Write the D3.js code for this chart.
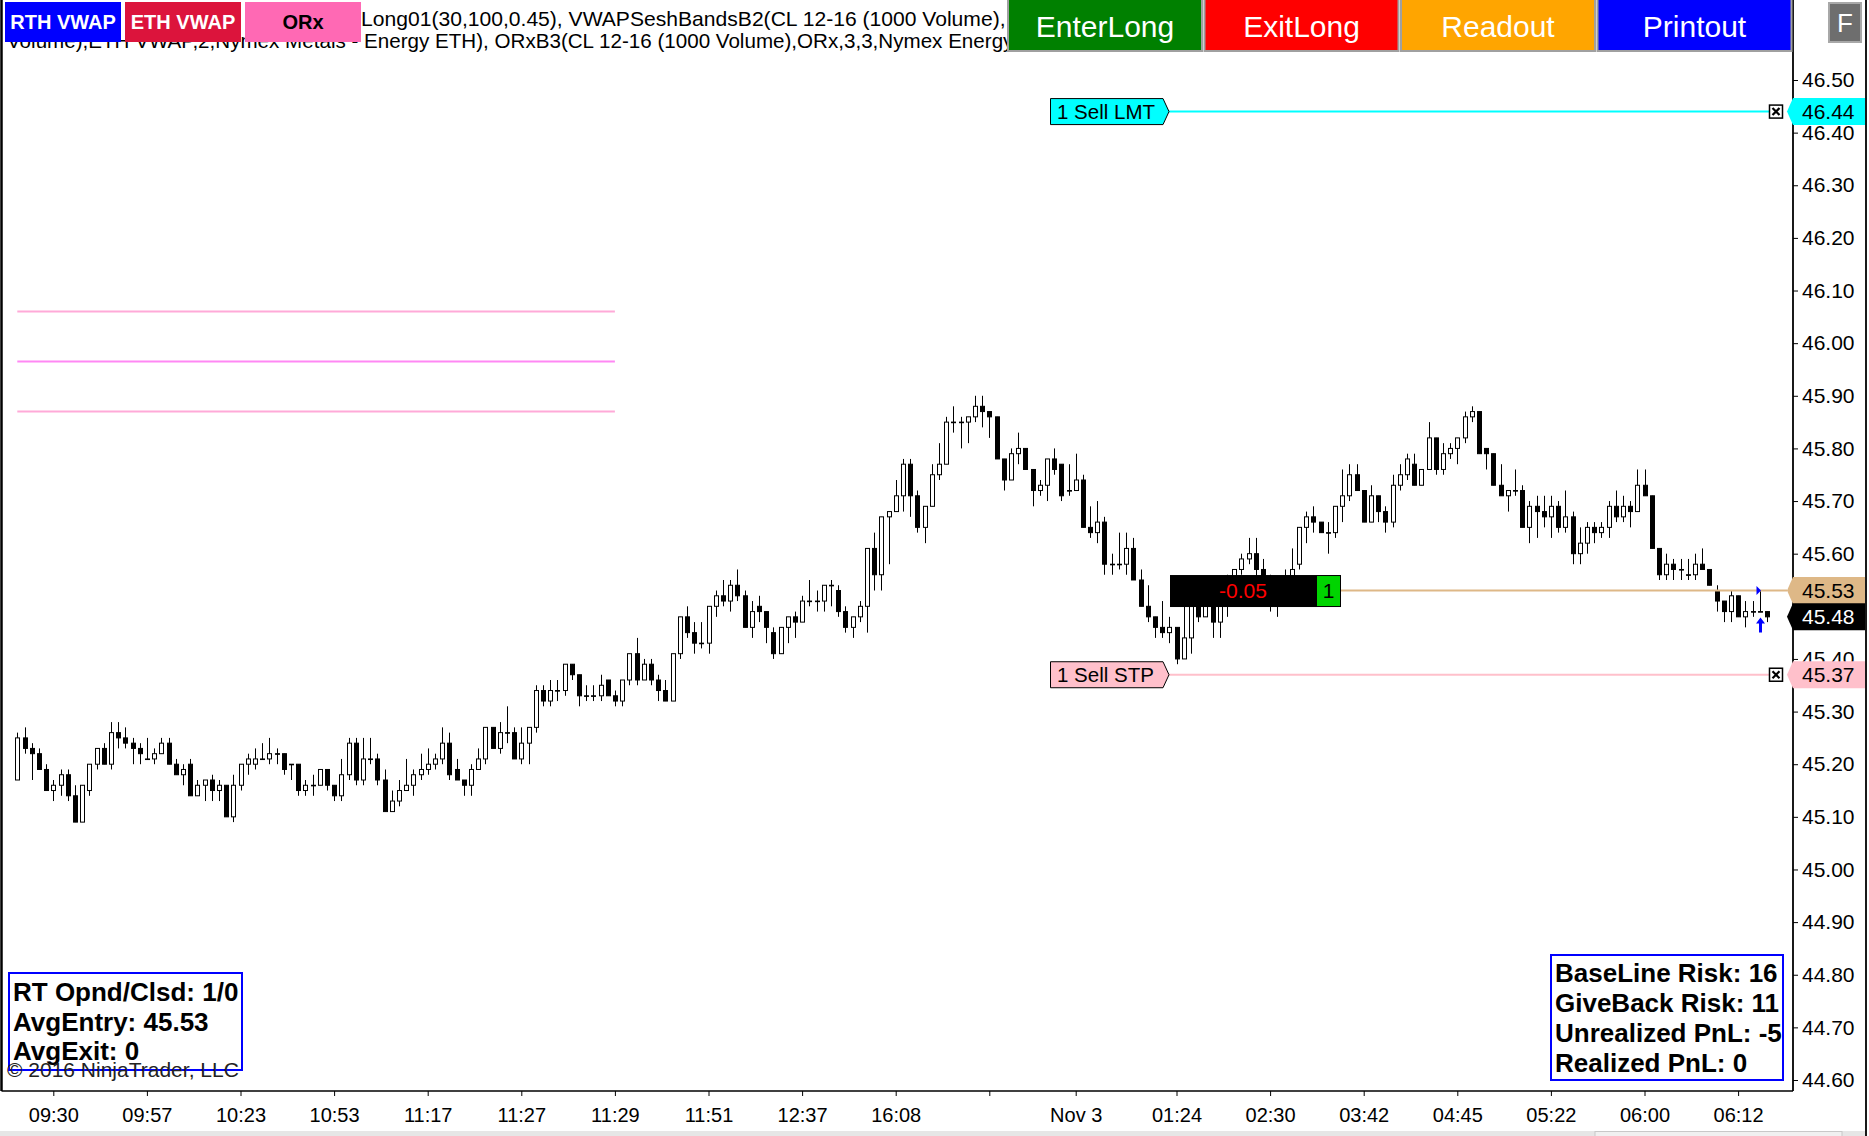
<!DOCTYPE html>
<html>
<head>
<meta charset="utf-8">
<script src="https://cdn.jsdelivr.net/npm/d3@7/dist/d3.min.js"></script>
<style>
  body { margin: 0; background: #fff; overflow: hidden; }
  svg { display: block; font-family: "Liberation Sans", Arial, sans-serif; }
</style>
</head>
<body>
<div id="chart"></div>
<script>
// CL 12-16 (1000 Volume) bars
var barOpen = [
  45.17,45.25,45.23,45.22,45.19,45.15,45.16,45.18,45.14,45.09,45.15,45.20,45.23,45.20,45.26,45.25,45.24,45.23,45.21,45.21,
  45.22,45.24,45.20,45.18,45.20,45.14,45.16,45.17,45.15,45.16,45.10,45.16,45.20,45.20,45.21,45.21,45.22,45.22,45.20,45.20,
  45.15,45.16,45.16,45.19,45.16,45.14,45.18,45.24,45.17,45.21,45.21,45.17,45.11,45.13,45.15,45.16,45.18,45.19,45.20,45.21,
  45.24,45.19,45.17,45.16,45.19,45.21,45.27,45.23,45.26,45.26,45.21,45.24,45.27,45.34,45.32,45.34,45.34,45.39,45.37,45.33,
  45.33,45.33,45.36,45.33,45.32,45.36,45.41,45.36,45.39,45.36,45.34,45.32,45.41,45.48,45.45,45.43,45.43,45.50,45.52,45.51,
  45.54,45.52,45.46,45.50,45.49,45.45,45.41,45.46,45.48,45.47,45.51,45.51,45.51,45.54,45.53,45.49,45.46,45.48,45.50,45.61,
  45.56,45.67,45.68,45.71,45.77,45.71,45.65,45.69,45.75,45.77,45.85,45.85,45.85,45.86,45.88,45.87,45.86,45.78,45.74,45.79,
  45.80,45.76,45.72,45.73,45.78,45.77,45.72,45.72,45.74,45.65,45.64,45.66,45.58,45.58,45.58,45.61,45.55,45.50,45.48,45.46,
  45.45,45.46,45.40,45.44,45.50,45.48,45.50,45.47,45.50,45.55,45.57,45.59,45.60,45.57,45.55,45.52,45.51,45.54,45.58,45.65,
  45.67,45.66,45.64,45.64,45.69,45.71,45.75,45.72,45.66,45.71,45.68,45.66,45.73,45.75,45.77,45.73,45.76,45.82,45.76,45.79,
  45.80,45.82,45.86,45.87,45.80,45.79,45.73,45.71,45.72,45.72,45.65,45.69,45.68,45.67,45.69,45.65,45.67,45.60,45.62,45.65,
  45.64,45.65,45.69,45.67,45.69,45.68,45.73,45.71,45.61,45.56,45.58,45.57,45.56,45.56,45.58,45.57,45.53,45.51,45.49,45.52,
  45.48,45.49,45.49,45.49
];
var barHigh = [
  45.26,45.27,45.24,45.23,45.20,45.17,45.19,45.19,45.16,45.16,45.20,45.23,45.24,45.28,45.28,45.27,45.25,45.24,45.25,45.23,
  45.25,45.25,45.21,45.20,45.21,45.17,45.17,45.18,45.17,45.16,45.18,45.20,45.22,45.23,45.24,45.25,45.23,45.22,45.20,45.20,
  45.17,45.18,45.19,45.19,45.16,45.21,45.25,45.25,45.25,45.25,45.22,45.19,45.15,45.17,45.21,45.19,45.22,45.23,45.22,45.27,
  45.26,45.21,45.17,45.20,45.23,45.27,45.27,45.28,45.31,45.27,45.27,45.27,45.35,45.35,45.36,45.36,45.39,45.39,45.37,45.35,
  45.35,45.37,45.36,45.34,45.36,45.41,45.44,45.40,45.40,45.37,45.36,45.41,45.48,45.50,45.47,45.47,45.50,45.53,45.55,45.55,
  45.57,45.53,45.51,45.52,45.49,45.46,45.46,45.48,45.49,45.52,45.55,45.53,45.54,45.55,45.54,45.50,45.48,45.51,45.61,45.64,
  45.67,45.68,45.74,45.78,45.78,45.72,45.69,45.77,45.81,45.86,45.88,45.86,45.86,45.90,45.90,45.87,45.86,45.78,45.80,45.83,
  45.80,45.76,45.74,45.78,45.80,45.77,45.77,45.79,45.75,45.69,45.70,45.67,45.60,45.64,45.64,45.63,45.57,45.54,45.48,45.51,
  45.48,45.46,45.50,45.50,45.52,45.51,45.52,45.51,45.56,45.57,45.60,45.63,45.63,45.59,45.56,45.54,45.57,45.61,45.65,45.68,
  45.69,45.66,45.66,45.69,45.76,45.77,45.77,45.72,45.73,45.71,45.69,45.75,45.77,45.79,45.79,45.76,45.85,45.82,45.81,45.81,
  45.82,45.87,45.88,45.87,45.80,45.79,45.77,45.72,45.76,45.73,45.70,45.71,45.71,45.71,45.70,45.72,45.68,45.65,45.66,45.66,
  45.66,45.70,45.72,45.71,45.70,45.76,45.76,45.71,45.61,45.60,45.59,45.59,45.59,45.60,45.61,45.57,45.54,45.51,45.53,45.52,
  45.51,45.51,45.53,45.49
];
var barLow = [
  45.17,45.22,45.17,45.19,45.15,45.13,45.14,45.13,45.09,45.09,45.14,45.19,45.20,45.19,45.23,45.23,45.20,45.20,45.21,45.20,
  45.22,45.20,45.18,45.16,45.14,45.14,45.13,45.13,45.13,45.10,45.09,45.15,45.18,45.19,45.21,45.20,45.20,45.18,45.17,45.14,
  45.14,45.14,45.16,45.15,45.13,45.13,45.17,45.16,45.16,45.20,45.16,45.11,45.11,45.12,45.15,45.14,45.17,45.18,45.19,45.20,
  45.17,45.17,45.14,45.14,45.19,45.20,45.23,45.22,45.24,45.21,45.20,45.20,45.26,45.31,45.31,45.32,45.33,45.36,45.31,45.32,
  45.32,45.32,45.33,45.31,45.31,45.35,45.35,45.36,45.35,45.32,45.32,45.32,45.40,45.44,45.41,45.42,45.41,45.48,45.50,45.49,
  45.51,45.46,45.44,45.47,45.43,45.40,45.41,45.43,45.44,45.47,45.50,45.49,45.49,45.50,45.48,45.45,45.44,45.47,45.45,45.53,
  45.53,45.58,45.68,45.68,45.67,45.64,45.62,45.69,45.74,45.77,45.83,45.80,45.81,45.85,45.84,45.82,45.78,45.72,45.74,45.77,
  45.76,45.69,45.71,45.70,45.75,45.70,45.71,45.72,45.65,45.63,45.62,45.56,45.56,45.57,45.56,45.55,45.50,45.47,45.44,45.44,
  45.43,45.39,45.40,45.41,45.47,45.48,45.44,45.44,45.48,45.53,45.56,45.58,45.55,45.52,45.49,45.48,45.50,45.53,45.57,45.62,
  45.64,45.64,45.60,45.63,45.66,45.70,45.72,45.66,45.66,45.66,45.64,45.65,45.72,45.74,45.73,45.73,45.76,45.75,45.75,45.78,
  45.77,45.81,45.85,45.79,45.76,45.73,45.71,45.68,45.71,45.65,45.62,45.63,45.65,45.63,45.64,45.64,45.58,45.58,45.60,45.62,
  45.63,45.63,45.66,45.66,45.65,45.68,45.71,45.61,45.55,45.55,45.55,45.55,45.55,45.55,45.57,45.54,45.49,45.47,45.47,45.48,
  45.46,45.48,45.49,45.47
];
var barClose = [
  45.25,45.23,45.22,45.19,45.15,45.16,45.18,45.14,45.09,45.16,45.20,45.23,45.20,45.26,45.25,45.24,45.23,45.22,45.21,45.22,
  45.24,45.20,45.18,45.19,45.14,45.16,45.17,45.15,45.16,45.10,45.16,45.20,45.21,45.21,45.21,45.22,45.22,45.19,45.20,45.15,
  45.16,45.16,45.19,45.16,45.14,45.18,45.24,45.17,45.21,45.21,45.17,45.11,45.13,45.15,45.16,45.18,45.19,45.20,45.21,45.24,
  45.18,45.17,45.16,45.19,45.21,45.27,45.23,45.26,45.26,45.21,45.24,45.27,45.34,45.32,45.34,45.34,45.39,45.37,45.33,45.33,
  45.33,45.35,45.33,45.32,45.36,45.41,45.36,45.39,45.36,45.34,45.32,45.41,45.48,45.45,45.43,45.43,45.50,45.52,45.51,45.54,
  45.52,45.46,45.49,45.49,45.46,45.41,45.46,45.48,45.47,45.51,45.51,45.51,45.54,45.54,45.49,45.46,45.48,45.50,45.61,45.56,
  45.67,45.68,45.71,45.77,45.71,45.65,45.69,45.75,45.77,45.85,45.85,45.85,45.86,45.88,45.87,45.86,45.78,45.74,45.79,45.80,
  45.76,45.72,45.73,45.78,45.76,45.71,45.72,45.74,45.65,45.64,45.66,45.58,45.58,45.58,45.61,45.55,45.50,45.48,45.46,45.45,
  45.46,45.40,45.44,45.50,45.48,45.50,45.47,45.50,45.55,45.57,45.59,45.60,45.57,45.55,45.52,45.51,45.54,45.57,45.65,45.67,
  45.66,45.64,45.64,45.69,45.71,45.75,45.72,45.66,45.71,45.68,45.66,45.73,45.75,45.78,45.73,45.76,45.82,45.76,45.79,45.80,
  45.82,45.86,45.87,45.79,45.79,45.73,45.71,45.72,45.72,45.65,45.69,45.68,45.67,45.69,45.65,45.67,45.60,45.62,45.65,45.64,
  45.65,45.69,45.67,45.69,45.68,45.73,45.71,45.61,45.56,45.58,45.57,45.57,45.56,45.58,45.57,45.54,45.51,45.49,45.52,45.48,
  45.49,45.49,45.49,45.48
];

// time axis: bar index of each label
var timeTickIndex = [5, 18, 31, 44, 57, 70, 83, 96, 109, 122, 135, 147, 161, 174, 187, 200, 213, 226, 239];
var timeTickLabels = ["09:30", "09:57", "10:23", "10:53", "11:17", "11:27", "11:29", "11:51", "12:37", "16:08",
  "", "Nov 3", "01:24", "02:30", "03:42", "04:45", "05:22", "06:00", "06:12"];
// 45.50 sits under the position / last price markers, so it is not listed
var priceTicks = [46.5, 46.4, 46.3, 46.2, 46.1, 46.0, 45.9, 45.8, 45.7, 45.6, 45.4, 45.3, 45.2, 45.1, 45.0,
  44.9, 44.8, 44.7, 44.6];

// opening range lines (ORx), first session only
var orxLevels = [46.06, 45.965, 45.87];
var orxFromBar = 0, orxToBar = 83;

// working orders, position and last price
var orderPrices = [46.44, 45.37];
var orderNames = ["1 Sell LMT", "1 Sell STP"];
var entryPrice = 45.53;
var lastPrice = 45.48;
var entryBar = 242;
var unrealized = "-0.05";
var positionQty = "1";

var statsLeft = ["RT Opnd/Clsd: 1/0", "AvgEntry: 45.53", "AvgExit: 0"];
var statsRight = ["BaseLine Risk: 16", "GiveBack Risk: 11", "Unrealized PnL: -5", "Realized PnL: 0"];
var buttonNames = ["EnterLong", "ExitLong", "Readout", "Printout"];
var legendNames = ["RTH VWAP", "ETH VWAP", "ORx"];

var W = 1869, H = 1136;
var plotRight = 1793, axisY = 1091;

document.addEventListener("DOMContentLoaded", () => {
  drawChart();
});

function drawChart() {
  var svg = d3.select("#chart").append("svg").attr("width", W).attr("height", H);
  svg.append("rect").attr("width", W).attr("height", H).attr("fill", "#fff");

  var x = d3.scaleLinear().domain([0, 243]).range([17.3, 17.3 + 243 * 7.2]);
  var y = d3.scaleLinear().domain([44.6, 46.5]).range([1080, 80]);

  // indicator description text, cut off where the buttons start
  svg.append("clipPath").attr("id", "descClip")
    .append("rect").attr("x", 0).attr("y", 0).attr("width", 1007).attr("height", 60);
  var desc = svg.append("g").attr("clip-path", "url(#descClip)");
  desc.append("text").attr("x", 361).attr("y", 26)
    .attr("font-size", 21.1).text("Long01(30,100,0.45), VWAPSeshBandsB2(CL 12-16 (1000 Volume), RTH");
  desc.append("text").attr("x", 7).attr("y", 47.5)
    .attr("font-size", 20.6).text("Volume),ETH VWAP,2,Nymex Metals - Energy ETH), ORxB3(CL 12-16 (1000 Volume),ORx,3,3,Nymex Energy ETH)");

  // ORx lines
  var orxColors = ["#ffaad8", "#ff88f4", "#ffaad8"];
  svg.selectAll(".orx").data(orxLevels).enter().append("line")
    .attr("x1", x(orxFromBar)).attr("x2", x(orxToBar))
    .attr("y1", d => y(d)).attr("y2", d => y(d))
    .attr("stroke", (d, i) => orxColors[i]).attr("stroke-width", 2);

  // candles
  var bars = d3.range(barOpen.length);
  var candle = svg.selectAll(".bar").data(bars).enter().append("g").attr("class", "bar");
  candle.append("line")
    .attr("x1", i => Math.round(x(i)) + 0.5).attr("x2", i => Math.round(x(i)) + 0.5)
    .attr("y1", i => y(barHigh[i])).attr("y2", i => y(barLow[i]))
    .attr("stroke", "#000").attr("stroke-width", 1);
  candle.append("rect")
    .attr("x", i => Math.round(x(i)) - 1.5)
    .attr("width", 4)
    .attr("y", i => y(Math.max(barOpen[i], barClose[i])))
    .attr("height", i => Math.max(Math.abs(y(barOpen[i]) - y(barClose[i])), 0.6))
    .attr("fill", i => barClose[i] > barOpen[i] ? "#fff" : "#000")
    .attr("stroke", "#000").attr("stroke-width", 1);

  // position line and P&L box
  var ey = y(entryPrice);
  svg.append("line").attr("x1", 1341).attr("x2", 1787).attr("y1", ey).attr("y2", ey)
    .attr("stroke", "#deb887").attr("stroke-width", 2);
  svg.append("rect").attr("x", 1170).attr("y", ey - 15.5).attr("width", 146).attr("height", 32).attr("fill", "#000");
  svg.append("rect").attr("x", 1316.5).attr("y", ey - 15).attr("width", 24).attr("height", 31)
    .attr("fill", "#00d400").attr("stroke", "#000").attr("stroke-width", 1);
  svg.append("text").attr("x", 1243).attr("y", ey).attr("dy", "0.35em").attr("text-anchor", "middle")
    .attr("font-size", 21).attr("fill", "#ff0000").text(unrealized);
  svg.append("text").attr("x", 1328.5).attr("y", ey).attr("dy", "0.35em").attr("text-anchor", "middle")
    .attr("font-size", 21).attr("fill", "#000").text(positionQty);

  // execution markers
  var ax = Math.round(x(entryBar)) + 0.5;
  svg.append("path")
    .attr("d", "M" + (ax - 4) + "," + (ey - 4.5) + "L" + (ax + 0.5) + "," + ey + "L" + (ax - 4) + "," + (ey + 4.5) + "Z")
    .attr("fill", "#0000ff");
  var at = y(barLow[entryBar]) + 6;
  svg.append("path")
    .attr("d", "M" + ax + "," + at + "L" + (ax + 4.5) + "," + (at + 6) + "L" + (ax + 1.5) + "," + (at + 6) +
      "L" + (ax + 1.5) + "," + (at + 15) + "L" + (ax - 1.5) + "," + (at + 15) + "L" + (ax - 1.5) + "," + (at + 6) +
      "L" + (ax - 4.5) + "," + (at + 6) + "Z")
    .attr("fill", "#0000ff");

  // working orders
  var orderFill = ["#00ffff", "#ffc0cb"];
  var order = svg.selectAll(".order").data(orderPrices).enter().append("g").attr("class", "order");
  order.append("line").attr("x1", 1169).attr("x2", 1769)
    .attr("y1", d => y(d)).attr("y2", d => y(d))
    .attr("stroke", (d, i) => orderFill[i]).attr("stroke-width", 2);
  order.append("path")
    .attr("d", d => {
      var c = y(d);
      return "M1050.5," + (c - 13) + "L1163," + (c - 13) + "L1169,"+ c + "L1163," + (c + 13) + "L1050.5," + (c + 13) + "Z";
    })
    .attr("fill", (d, i) => orderFill[i]).attr("stroke", "#000").attr("stroke-width", 1);
  order.append("text").attr("x", 1057).attr("y", d => y(d)).attr("dy", "0.35em")
    .attr("font-size", 20.5).text((d, i) => orderNames[i]);
  order.append("rect").attr("x", 1769.5).attr("y", d => y(d) - 6.5).attr("width", 13).attr("height", 13)
    .attr("fill", "#fff").attr("stroke", "#000").attr("stroke-width", 1.5);
  order.append("path")
    .attr("d", d => {
      var c = y(d);
      return "M1772.5," + (c - 3.5) + "L1779.5," + (c + 3.5) + "M1779.5," + (c - 3.5) + "L1772.5," + (c + 3.5);
    })
    .attr("stroke", "#000").attr("stroke-width", 2.2);

  // frame
  svg.append("line").attr("x1", 1.5).attr("x2", 1.5).attr("y1", 0).attr("y2", axisY)
    .attr("stroke", "#000").attr("stroke-width", 2.5);
  svg.append("line").attr("x1", 1.5).attr("x2", plotRight).attr("y1", axisY).attr("y2", axisY)
    .attr("stroke", "#000").attr("stroke-width", 1.5);
  svg.append("line").attr("x1", plotRight).attr("x2", plotRight).attr("y1", 0).attr("y2", axisY)
    .attr("stroke", "#000").attr("stroke-width", 1.8);
  svg.append("line").attr("x1", 1866).attr("x2", 1866).attr("y1", 0).attr("y2", H)
    .attr("stroke", "#000").attr("stroke-width", 1.8);

  // price axis
  var yAxis = svg.append("g").attr("transform", "translate(" + plotRight + ",0)")
    .call(d3.axisRight(y).tickValues(priceTicks).tickFormat(d3.format(".2f")).tickSize(5).tickPadding(4));
  yAxis.select(".domain").remove();
  yAxis.selectAll("text").attr("font-size", 21).attr("font-family", "Liberation Sans, Arial").attr("fill", "#000");
  yAxis.selectAll("line").attr("stroke", "#000");

  // time axis
  var xAxis = svg.append("g").attr("transform", "translate(0," + axisY + ")")
    .call(d3.axisBottom(x).tickValues(timeTickIndex).tickFormat((d, i) => timeTickLabels[i]).tickSize(5).tickPadding(12));
  xAxis.select(".domain").remove();
  xAxis.selectAll("text").attr("font-size", 20).attr("font-family", "Liberation Sans, Arial").attr("fill", "#000");
  xAxis.selectAll("line").attr("stroke", "#000");

  // price markers on the axis
  var markerPrices = [orderPrices[0], entryPrice, lastPrice, orderPrices[1]];
  var markerFill = ["#00ffff", "#deb887", "#000", "#ffc0cb"];
  var markerInk = ["#000", "#000", "#fff", "#000"];
  var marker = svg.selectAll(".pmark").data(markerPrices).enter().append("g").attr("class", "pmark");
  marker.append("path")
    .attr("d", d => {
      var c = y(d);
      return "M1787," + c + "L1793," + (c - 13.5) + "L1865," + (c - 13.5) + "L1865," + (c + 13.5) + "L1793," + (c + 13.5) + "Z";
    })
    .attr("fill", (d, i) => markerFill[i]);
  marker.append("text").attr("x", 1802).attr("y", d => y(d)).attr("dy", "0.35em")
    .attr("font-size", 21).attr("fill", (d, i) => markerInk[i]).text(d => d.toFixed(2));

  // stats boxes
  svg.append("rect").attr("x", 9).attr("y", 973).attr("width", 233).attr("height", 97)
    .attr("fill", "none").attr("stroke", "#0000ff").attr("stroke-width", 2);
  svg.selectAll(".statL").data(statsLeft).enter().append("text")
    .attr("x", 13).attr("y", (d, i) => 1001 + i * 29.5)
    .attr("font-size", 26).attr("font-weight", "bold").text(d => d);
  svg.append("text").attr("x", 7).attr("y", 1077).attr("font-size", 21).attr("fill", "#222")
    .text("\u00a9 2016 NinjaTrader, LLC");

  svg.append("rect").attr("x", 1551).attr("y", 955).attr("width", 232).attr("height", 125)
    .attr("fill", "#fff").attr("stroke", "#0000ff").attr("stroke-width", 2);
  svg.selectAll(".statR").data(statsRight).enter().append("text")
    .attr("x", 1555).attr("y", (d, i) => 982 + i * 30)
    .attr("font-size", 26).attr("font-weight", "bold").text(d => d);

  // legend boxes
  var legendFill = ["#0000ff", "#dc143c", "#ff69b4"];
  var legendInk = ["#fff", "#fff", "#000"];
  var legend = svg.selectAll(".legend").data(legendNames).enter().append("g").attr("class", "legend");
  legend.append("rect").attr("x", (d, i) => 5 + i * 120).attr("y", 2).attr("width", 116).attr("height", 40)
    .attr("fill", (d, i) => legendFill[i]);
  legend.append("text").attr("x", (d, i) => 63 + i * 120).attr("y", 22).attr("dy", "0.35em")
    .attr("text-anchor", "middle").attr("font-size", 20).attr("font-weight", "bold")
    .attr("fill", (d, i) => legendInk[i]).text(d => d);

  // strategy buttons
  var buttonFill = ["#008000", "#ff0000", "#ffa500", "#0000ff"];
  var button = svg.selectAll(".btn").data(buttonNames).enter().append("g").attr("class", "btn");
  button.append("rect").attr("x", (d, i) => 1008 + i * 196.5).attr("y", -2).attr("width", 194).attr("height", 53)
    .attr("fill", (d, i) => buttonFill[i]).attr("stroke", "#a0a0a0").attr("stroke-width", 2);
  button.append("text").attr("x", (d, i) => 1105 + i * 196.5).attr("y", 26).attr("dy", "0.35em")
    .attr("text-anchor", "middle").attr("font-size", 30).attr("fill", "#fff").text(d => d);

  svg.append("rect").attr("x", 1829).attr("y", 3).attr("width", 32).attr("height", 39)
    .attr("fill", "#6e6e6e").attr("stroke", "#a8a8a8").attr("stroke-width", 2);
  svg.append("text").attr("x", 1845).attr("y", 23).attr("dy", "0.35em").attr("text-anchor", "middle")
    .attr("font-size", 26).attr("fill", "#fff").text("F");

  // scroll bar strip
  svg.append("rect").attr("x", 0).attr("y", 1131).attr("width", 1865).attr("height", 5).attr("fill", "#e6e6e6");
  svg.append("rect").attr("x", 1595).attr("y", 1131.5).attr("width", 247).attr("height", 5)
    .attr("fill", "#f0f0f0").attr("stroke", "#c8c8c8");
}
</script>
</body>
</html>
